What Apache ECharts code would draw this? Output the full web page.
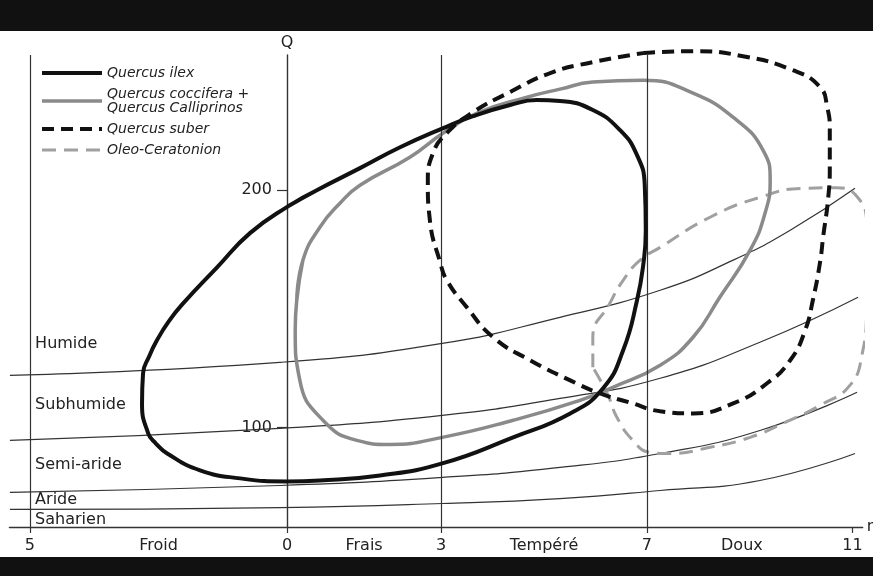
<!DOCTYPE html>
<html><head><meta charset="utf-8">
<script src="https://cdn.jsdelivr.net/npm/echarts@6/dist/echarts.min.js"></script>
<style>html,body{margin:0;padding:0;background:#fff}#chart{width:873px;height:576px}</style>
</head><body><div id="chart"></div>
<script>
// Axis ticks and labels (m axis, Q axis)
const xTickValues = [-5, 0, 3, 7, 11];
const xLabelValues = [-5, -2.5, 0, 1.5, 3, 5, 7, 8.85, 11];
const xLabelTexts = ['5', 'Froid', '0', 'Frais', '3', 'Tempéré', '7', 'Doux', '11'];
const yTickValues = [100, 200];
const dividerValues = [-5, 3, 7];

// Bioclimatic zones
const zoneNames = ['Humide', 'Subhumide', 'Semi-aride', 'Aride', 'Saharien'];
const zoneLabelPoints = [[-4.9, 135.4], [-4.9, 109.3], [-4.9, 84.0], [-4.9, 69.6], [-4.9, 61.2]];

// Zone limits [m, Q]
const limitHumide = [[-5.39,121.9],[-0.14,127.4],[3.02,135.4],[5.31,146.4],[7.26,157.8],[8.68,170.5],[9.79,183.1],[11.05,200.8]];
const limitSubhumide = [[-5.39,94.5],[-0.14,99.6],[3.02,105.1],[5.31,112.2],[7.26,120.7],[9.20,135.9],[11.11,154.9]];
const limitSemiAride = [[-5.39,72.6],[-0.14,75.5],[3.02,78.9],[5.31,83.1],[7.26,89.0],[9.20,98.7],[11.09,114.8]];
const limitAride = [[-5.39,65.4],[-0.14,66.2],[3.02,67.9],[5.31,70.0],[7.26,73.4],[9.20,77.6],[11.05,89.0]];

// Species envelopes [m, Q]
const quercusIlex = [[0.02,193.2],[0.58,200.0],[1.42,209.3],[2.20,218.1],[3.04,226.2],[3.62,231.2],[4.34,235.9],[4.86,238.0],[5.31,237.6],[5.95,233.8],[6.48,225.3],[6.81,214.8],[6.96,202.1],[6.98,183.1],[6.93,168.4],[6.81,153.6],[6.54,132.5],[6.15,116.5],[5.51,105.9],[4.40,95.8],[3.02,84.8],[1.81,79.7],[0.64,77.6],[0.0,77.2],[-0.91,78.5],[-1.69,81.9],[-2.33,89.0],[-2.55,93.2],[-2.70,97.5],[-2.82,110.1],[-2.80,122.8],[-2.68,130.0],[-2.53,136.7],[-2.30,144.7],[-2.02,152.3],[-1.36,167.5],[-0.72,181.9]];
const quercusCoccifera = [[0.19,153.6],[0.31,170.5],[0.64,184.4],[1.03,194.5],[1.42,202.1],[2.39,213.9],[3.04,224.1],[3.70,232.5],[4.67,239.2],[5.31,242.6],[5.95,245.6],[6.93,246.4],[7.90,240.9],[8.75,229.5],[9.26,216.9],[9.40,204.2],[9.30,190.3],[9.01,174.7],[8.42,154.9],[7.90,138.0],[7.26,126.2],[6.34,116.9],[5.70,111.4],[4.40,103.0],[3.02,95.8],[2.00,92.8],[1.36,94.5],[0.70,103.0],[0.25,119.8],[0.16,140.9]];
const quercusSuber = [[6.93,257.8],[7.90,258.6],[8.87,256.5],[9.84,250.6],[10.37,243.5],[10.51,235.0],[10.56,225.3],[10.56,210.5],[10.53,197.0],[10.43,180.2],[10.37,169.6],[10.23,153.6],[10.08,140.9],[9.79,128.3],[9.34,118.6],[8.68,110.1],[7.90,105.9],[7.26,106.8],[6.67,110.5],[6.09,114.3],[5.51,119.8],[4.73,128.3],[4.01,138.0],[3.50,150.6],[3.11,162.0],[2.98,169.6],[2.78,187.3],[2.74,203.4],[2.84,215.6],[3.11,224.1],[3.62,232.9],[4.34,241.4],[5.12,249.4],[5.95,254.0]];
const oleoCeratonion = [[5.95,125.3],[5.95,138.0],[6.28,152.3],[6.54,162.0],[6.87,170.5],[7.26,175.9],[8.23,188.6],[9.20,197.0],[10.04,200.8],[10.70,201.0],[11.10,197.0],[11.28,186.0],[11.30,170.0],[11.28,150.0],[11.19,131.0],[10.95,117.7],[10.37,109.3],[9.73,102.5],[9.01,95.8],[8.23,91.6],[7.45,89.0],[7.06,89.5],[6.73,94.5],[6.42,104.2],[6.23,114.3]];

const speciesNames = ['Quercus ilex', 'Quercus coccifera + Quercus Calliprinos', 'Quercus suber', 'Oleo-Ceratonion'];

function closeSmooth(a) { return a.concat([a[0], a[1]]); }
function closeLoop(a) { return a.concat([a[0]]); }

const FONT = 'DejaVu Sans';
const X_MIN = -5.4, X_MAX = 11.2, GRID_LEFT = 9.4, GRID_RIGHT = 10.3;
const chart = echarts.init(document.getElementById('chart'), null, {renderer: 'canvas'});
const plotWidth = 873 - GRID_LEFT - GRID_RIGHT;
const zeroOffset = (0 - X_MIN) / (X_MAX - X_MIN) * plotWidth;

function limitSeries(name, data, extra) {
  return Object.assign({
    name: name, type: 'line', data: data, smooth: 0.5, symbol: 'none', clip: false,
    silent: true, lineStyle: {color: '#333', width: 1.2}, z: 2
  }, extra || {});
}

chart.setOption({
  animation: false,
  backgroundColor: '#fff',
  graphic: [
    {type: 'rect', shape: {x: 0, y: 0, width: 873, height: 31}, style: {fill: '#111'}, z: 100},
    {type: 'rect', shape: {x: 0, y: 557, width: 873, height: 19}, style: {fill: '#111'}, z: 100}
  ],
  grid: {left: GRID_LEFT, right: GRID_RIGHT, top: 55, bottom: 49, containLabel: false, outerBoundsMode: 'none'},
  legend: {
    orient: 'vertical', left: 40, top: 66, padding: 0, itemWidth: 60, itemHeight: 14, itemGap: 7,
    selectedMode: false, data: speciesNames,
    itemStyle: {opacity: 0},
    lineStyle: {width: 'inherit'},
    formatter: function (n) { return n.replace(' + ', ' +\n'); },
    textStyle: {fontFamily: FONT, fontStyle: 'italic', fontSize: 14, lineHeight: 14, color: '#222'}
  },
  xAxis: {
    type: 'value', min: X_MIN, max: X_MAX, name: 'm', nameLocation: 'end', nameGap: 4,
    nameTextStyle: {fontFamily: FONT, fontSize: 16, color: '#222', verticalAlign: 'middle'},
    axisLine: {onZero: false, lineStyle: {color: '#333', width: 1.3}},
    axisTick: {show: true, customValues: xTickValues, length: 6, lineStyle: {color: '#333', width: 1.2}},
    axisLabel: {
      customValues: xLabelValues, margin: 11, fontFamily: FONT, fontSize: 16, color: '#222',
      formatter: function (v) { const i = xLabelValues.indexOf(v); return i >= 0 ? xLabelTexts[i] : ''; }
    },
    splitLine: {show: false}
  },
  yAxis: {
    type: 'value', min: 58, max: 257, name: 'Q', nameLocation: 'end', nameGap: 4,
    position: 'left', offset: -zeroOffset,
    nameTextStyle: {fontFamily: FONT, fontSize: 16, color: '#222'},
    axisLine: {show: true, onZero: false, lineStyle: {color: '#333', width: 1.4}},
    axisTick: {show: true, customValues: yTickValues, length: 10, lineStyle: {color: '#333', width: 1.2}},
    axisLabel: {customValues: yTickValues, margin: 15, fontFamily: FONT, fontSize: 16, color: '#222'},
    splitLine: {show: false}
  },
  series: [
    limitSeries('limit-humide', limitHumide, {
      markLine: {
        silent: true, symbol: ['none', 'none'], label: {show: false},
        lineStyle: {color: '#333', width: 1.2, type: 'solid'},
        data: dividerValues.map(function (v) { return {xAxis: v}; })
      }
    }),
    limitSeries('limit-subhumide', limitSubhumide),
    limitSeries('limit-semiaride', limitSemiAride),
    limitSeries('limit-aride', limitAride),
    {
      name: speciesNames[3], type: 'line', data: closeLoop(oleoCeratonion), smooth: 0.5, symbol: 'none', clip: false,
      lineStyle: {color: '#a0a0a0', width: 3, type: [14, 8]}, itemStyle: {color: '#a0a0a0'}, z: 3
    },
    {
      name: speciesNames[1], type: 'line', data: closeSmooth(quercusCoccifera), smooth: 0.5, symbol: 'none', clip: false,
      lineStyle: {color: '#8a8a8a', width: 3.5}, itemStyle: {color: '#8a8a8a'}, z: 4
    },
    {
      name: speciesNames[2], type: 'line', data: closeLoop(quercusSuber), smooth: 0.5, symbol: 'none', clip: false,
      lineStyle: {color: '#111', width: 4, type: [12, 7]}, itemStyle: {color: '#111'}, z: 5
    },
    {
      name: speciesNames[0], type: 'line', data: closeSmooth(quercusIlex), smooth: 0.5, symbol: 'none', clip: false,
      lineStyle: {color: '#111', width: 4}, itemStyle: {color: '#111'}, z: 6
    },
    {
      name: 'zones', type: 'scatter', symbolSize: 0, silent: true,
      itemStyle: {opacity: 1},
      data: zoneNames.map(function (n, i) { return {name: n, value: zoneLabelPoints[i]}; }),
      label: {show: true, position: 'right', distance: 0, formatter: '{b}', fontFamily: FONT, fontSize: 16, color: '#222', opacity: 1}
    }
  ]
});
</script>
</body></html>
